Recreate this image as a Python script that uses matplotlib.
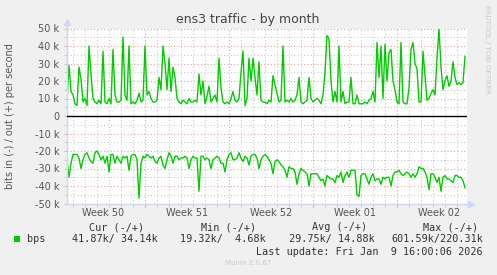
import matplotlib
matplotlib.use("Agg")
import matplotlib.pyplot as plt
import pandas as pd
from matplotlib.patches import Rectangle
from matplotlib.transforms import blended_transform_factory
from matplotlib.ticker import FuncFormatter, MultipleLocator

# out (+) traffic, k bits/s, one sample every 4 hours
out_k = [9, 29, 14, 12, 7, 6, 28, 21, 8, 10, 6, 40, 24, 10, 8, 7, 9, 7, 37, 8,
         7, 10, 7, 38, 12, 8, 8, 9, 45, 12, 9, 40, 7, 8, 7, 9, 13, 8, 9, 40,
         12, 14, 10, 8, 8, 9, 22, 15, 40, 30, 15, 33, 14, 28, 22, 10, 8, 7, 9, 8,
         7, 10, 8, 8, 9, 8, 24, 12, 20, 7, 11, 17, 8, 10, 12, 8, 33, 16, 8, 7,
         8, 7, 10, 14, 9, 8, 10, 25, 37, 6, 10, 33, 20, 33, 22, 12, 31, 9, 8, 8,
         7, 9, 8, 23, 18, 13, 8, 9, 40, 8, 9, 8, 10, 8, 9, 12, 22, 8, 7, 8,
         9, 22, 10, 8, 9, 10, 9, 7, 12, 25, 46, 44, 20, 8, 14, 8, 40, 8, 14, 7,
         8, 8, 22, 7, 7, 12, 7, 7, 7, 8, 7, 9, 10, 14, 8, 42, 22, 40, 10, 41,
         20, 36, 38, 20, 15, 8, 7, 42, 8, 7, 7, 16, 38, 42, 30, 27, 8, 8, 37, 23,
         9, 10, 13, 15, 12, 33, 50, 28, 15, 20, 23, 17, 20, 31, 22, 18, 19, 18, 19, 34]

# in (-) traffic, k bits/s, drawn below zero
in_k = [25, 35, 27, 22, 22, 22, 24, 30, 25, 22, 21, 24, 26, 27, 21, 20, 22, 25, 23, 27,
        23, 32, 22, 22, 27, 23, 25, 27, 23, 24, 23, 31, 23, 22, 22, 25, 47, 27, 23, 24,
        22, 23, 24, 23, 26, 27, 24, 23, 28, 30, 25, 21, 23, 27, 23, 23, 25, 24, 24, 23,
        24, 30, 25, 23, 24, 24, 43, 23, 23, 25, 24, 25, 30, 25, 24, 23, 24, 27, 27, 32,
        25, 22, 21, 25, 25, 24, 21, 24, 26, 23, 24, 28, 23, 22, 22, 24, 30, 25, 23, 22,
        23, 25, 27, 33, 26, 25, 26, 28, 29, 31, 35, 29, 30, 30, 32, 39, 33, 30, 31, 32,
        33, 40, 33, 33, 33, 33, 35, 37, 36, 40, 34, 35, 36, 36, 38, 34, 35, 32, 38, 34,
        32, 35, 31, 31, 31, 45, 46, 34, 33, 33, 36, 39, 35, 33, 37, 36, 36, 39, 35, 36,
        35, 35, 40, 34, 32, 32, 31, 33, 34, 33, 32, 33, 35, 33, 35, 33, 29, 30, 30, 32,
        35, 42, 33, 33, 35, 38, 35, 43, 35, 34, 36, 36, 37, 38, 34, 34, 35, 35, 37, 41]

times = pd.date_range(end="2026-01-09 16:00", periods=len(out_k), freq="4h")
days = pd.date_range("2025-12-08", "2026-01-09", freq="D")
sundays = pd.date_range("2025-12-14", periods=4, freq="7D")
week_pos = pd.date_range("2025-12-10 12:00", periods=5, freq="7D")
week_labels = ["Week %02d" % d.isocalendar().week for d in week_pos]

legend_head = ["Cur (-/+)", "Min (-/+)", "Avg (-/+)", "Max (-/+)"]
legend_vals = ["41.87k/ 34.14k", "19.32k/  4.68k", "29.75k/ 14.88k", "601.59k/220.31k"]

W, H = 497, 275
green = "#00cc00"
axis_col = "#cfd6f8"
fig = plt.figure(figsize=(W / 100, H / 100), dpi=100, facecolor="#f0f0f0")
ax = fig.add_axes([67 / W, 1 - 203.5 / H, 400 / W, 175 / H])
ax.set_facecolor("white")

ax.plot(times, [v * 1000 for v in out_k], color=green, lw=1.0)
ax.plot(times, [-v * 1000 for v in in_k], color=green, lw=1.0)
ax.axhline(0, color="black", lw=1.0, zorder=3)

ax.set_xlim(times[0], times[0] + pd.Timedelta(days=400 / 12))
ax.set_ylim(-50000, 50000)

# grid
ax.set_xticks(sundays)
ax.set_xticks(days, minor=True)
ax.set_xticklabels([])
ax.yaxis.set_major_locator(MultipleLocator(10000))
ax.yaxis.set_minor_locator(MultipleLocator(5000))
ax.yaxis.set_major_formatter(FuncFormatter(lambda v, p: "0" if v == 0 else "%d k" % round(v / 1000)))
ax.grid(which="major", color="#eaa0a0", ls=(0, (1, 2)), lw=0.8)
ax.grid(which="minor", color="#c8c8c8", ls=(0, (1, 2)), lw=0.8)
ax.set_axisbelow(True)
ax.tick_params(which="major", axis="x", length=2, color="#eaa0a0")
ax.tick_params(which="minor", axis="x", length=2, color="#c8c8c8")
ax.tick_params(axis="y", which="both", length=2, color="#c8c8c8", pad=3.5,
               labelsize=7, labelcolor="#555555")

for s in ["top", "right"]:
    ax.spines[s].set_visible(False)
for s in ["left", "bottom"]:
    ax.spines[s].set_color(axis_col)
    ax.spines[s].set_linewidth(1.0)
ax.plot([0, 0], [1, 1.035], color=axis_col, lw=1.0, transform=ax.transAxes, clip_on=False)
ax.plot(0, 1.035, marker="^", ms=4, color=axis_col, transform=ax.transAxes, clip_on=False)
ax.plot([1, 1.01], [0, 0], color=axis_col, lw=1.0, transform=ax.transAxes, clip_on=False)
ax.plot(1.01, 0, marker=">", ms=4, color=axis_col, transform=ax.transAxes, clip_on=False)

trans = blended_transform_factory(ax.transData, fig.transFigure)
for pos, lab in zip(week_pos, week_labels):
    ax.text(pos, 1 - 213 / H, lab, transform=trans, ha="center", va="center",
            fontsize=7, color="#555555")

fig.text(248 / W, 1 - 19 / H, "ens3 traffic - by month", ha="center", va="center",
         fontsize=9, color="#444444")
fig.text(10 / W, 1 - 116 / H, "bits in (-) / out (+) per second", rotation=90,
         ha="center", va="center", fontsize=7, color="#555555")
fig.text(487 / W, 1 - 5 / H, "RRDTOOL / TOBI OETIKER", rotation=270, ha="center",
         va="top", fontsize=5, color="#c8c8c8")

# legend
mono = dict(family="DejaVu Sans Mono", fontsize=7.3, color="#333333", va="center")
fig.add_artist(Rectangle((14 / W, 1 - 242 / H), 6 / W, 6 / H, transform=fig.transFigure,
                         facecolor=green, edgecolor="none"))
fig.text(27 / W, 1 - 239 / H, "bps", **mono)
for x, t in zip([89, 201, 312, 423], legend_head):
    fig.text(x / W, 1 - 227 / H, t, **mono)
for x, t in zip([72, 180, 289, 391], legend_vals):
    fig.text(x / W, 1 - 239 / H, t, **mono)
fig.text(483 / W, 1 - 252 / H, "Last update: Fri Jan  9 16:00:06 2026", ha="right", **mono)
fig.text(248 / W, 1 - 263 / H, "Munin 2.0.67", ha="center", va="center",
         fontsize=5, color="#c8c8c8")

fig.savefig("out.png", dpi=100, facecolor=fig.get_facecolor())
